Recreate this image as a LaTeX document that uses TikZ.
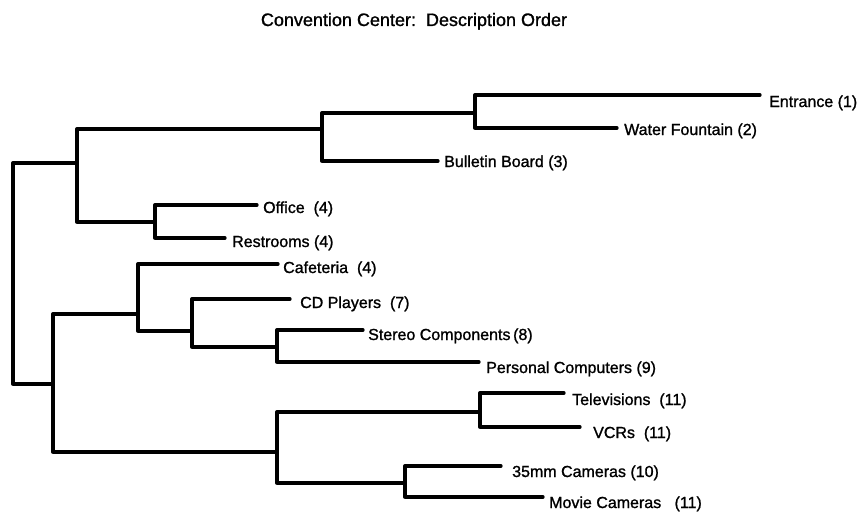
\documentclass[tikz,border=0pt]{standalone}
\usepackage{fontspec}
\setmainfont{Liberation Sans}
\newfontfamily\treefont{Liberation Sans}[FakeBold=1.2]
\begin{document}
\begin{tikzpicture}[x=1pt,y=-1pt,
  branch/.style={line width=3.3pt,line join=round,line cap=round},
  leaf/.style={anchor=base west,inner sep=0pt,font=\treefont\fontsize{16}{19}\selectfont},
  heading/.style={anchor=base,inner sep=0pt,font=\treefont\fontsize{18}{21}\selectfont}]
\useasboundingbox (0,0) rectangle (858,511);

\node[heading] (title) at (414,26) {Convention Center:\ \ Description Order};

% leaf ends of the branches
\coordinate (eEnt)  at (760,95);
\coordinate (eWat)  at (617,128);
\coordinate (eBul)  at (438,161);
\coordinate (eOff)  at (257,205);
\coordinate (eRes)  at (225,238);
\coordinate (eCaf)  at (278,264);
\coordinate (eCD)   at (290,299);
\coordinate (eSte)  at (363,330);
\coordinate (ePC)   at (479,362);
\coordinate (eTV)   at (564,393);
\coordinate (eVCR)  at (580,427);
\coordinate (eCam)  at (501,466);
\coordinate (eMov)  at (543,497);

% junctions (x of the vertical bar, y where the parent attaches)
\coordinate (jEW)   at (475,113);
\coordinate (jAB)   at (322,129);
\coordinate (jOR)   at (155,222);
\coordinate (jTop)  at (77,163);
\coordinate (jSP)   at (277,347);
\coordinate (jCD)   at (192,331);
\coordinate (jCaf)  at (138,314);
\coordinate (jTV)   at (480,412);
\coordinate (jCam)  at (405,483);
\coordinate (jBot)  at (277,452);
\coordinate (jLow)  at (53,384);
\coordinate (jRoot) at (13,300);

% labels
\node[leaf] (lEnt) at (769,107) {Entrance (1)};
\node[leaf] (lWat) at (624,135) {Water Fountain (2)};
\node[leaf] (lBul) at (444,167) {Bulletin Board (3)};
\node[leaf] (lOff) at (263,213) {Office\ \ (4)};
\node[leaf] (lRes) at (232,247) {Restrooms (4)};
\node[leaf] (lCaf) at (283,273) {Cafeteria\ \ (4)};
\node[leaf] (lCD)  at (300,308) {CD Players\ \ (7)};
\node[leaf] (lSte) at (368,340) {Stereo Components\,(8)};
\node[leaf] (lPC)  at (486,373) {Personal Computers (9)};
\node[leaf] (lTV)  at (572,405) {Televisions\ \ (11)};
\node[leaf] (lVCR) at (593,438) {VCRs\ \ (11)};
\node[leaf] (lCam) at (512,477) {35mm Cameras (10)};
\node[leaf] (lMov) at (549,508) {Movie Cameras\ \ \ (11)};

% branches of the tree
\draw[branch] (eEnt) -| (jEW) |- (eWat);
\draw[branch] (jEW)  -| (jAB) |- (eBul);
\draw[branch] (eOff) -| (jOR) |- (eRes);
\draw[branch] (jAB)  -| (jTop) |- (jOR);
\draw[branch] (eSte) -| (jSP) |- (ePC);
\draw[branch] (eCD)  -| (jCD) |- (jSP);
\draw[branch] (eCaf) -| (jCaf) |- (jCD);
\draw[branch] (eTV)  -| (jTV) |- (eVCR);
\draw[branch] (eCam) -| (jCam) |- (eMov);
\draw[branch] (jTV)  -| (jBot) |- (jCam);
\draw[branch] (jCaf) -| (jLow) |- (jBot);
\draw[branch] (jTop) -| (jRoot) |- (jLow);
\end{tikzpicture}
\end{document}
